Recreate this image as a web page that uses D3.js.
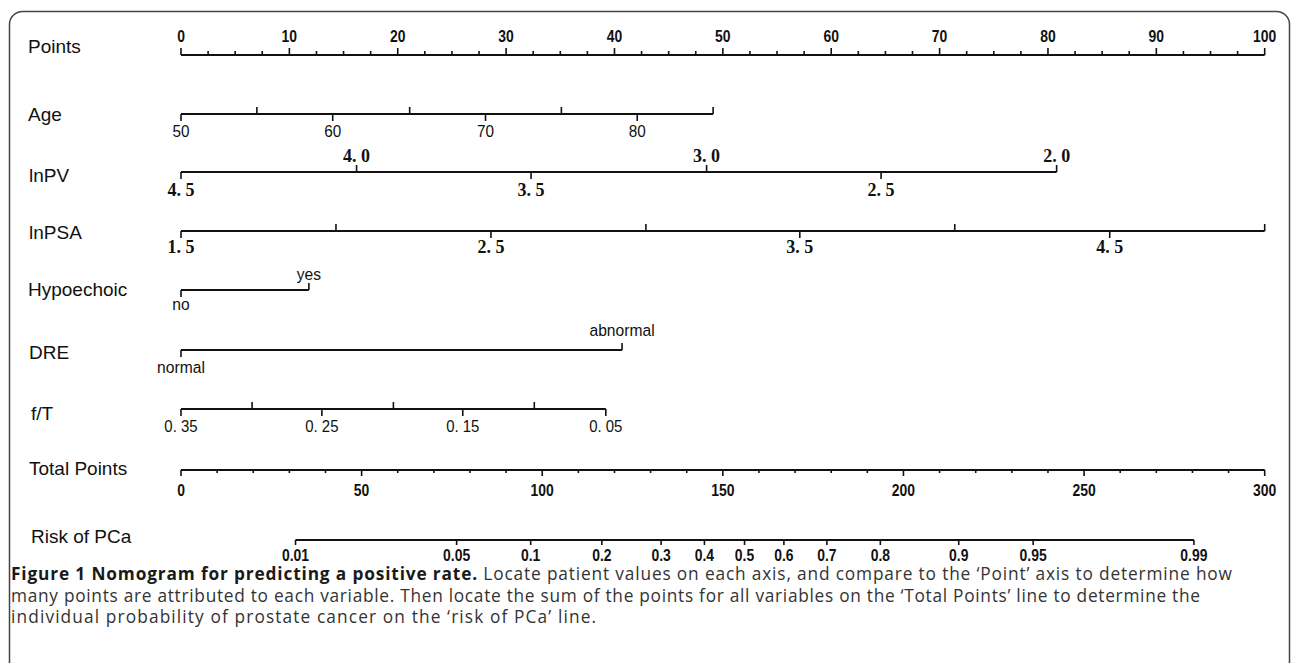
<!DOCTYPE html>
<html><head><meta charset="utf-8">
<script src="https://cdn.jsdelivr.net/npm/d3@7"></script>
<style>html,body{margin:0;padding:0;background:#fff}svg{display:block}</style>
</head><body>
<svg id="chart" width="1292" height="663"></svg>
<script>
// ---------- DATA ----------
const rowNames = ["Points","Age","lnPV","lnPSA","Hypoechoic","DRE","f/T","Total Points","Risk of PCa"];

const pointsMajor = [0,10,20,30,40,50,60,70,80,90,100];
const pointsMinor = [2.5,5,7.5,12.5,15,17.5,22.5,25,27.5,32.5,35,37.5,42.5,45,47.5,52.5,55,57.5,62.5,65,67.5,72.5,75,77.5,82.5,85,87.5,92.5,95,97.5];

const ageValues = [50,55,60,65,70,75,80,85];
const agePoints = [0,7.0,14.0,21.1,28.1,35.1,42.1,49.1];
const ageLabels = ["50","","60","","70","","80",""];

const lnpvValues = [4.5,4.0,3.5,3.0,2.5,2.0];
const lnpvPoints = [0,16.2,32.3,48.5,64.6,80.8];
const lnpvLabels = ["4. 5","4. 0","3. 5","3. 0","2. 5","2. 0"];
const lnpvSide   = ["below","above","below","above","below","above"];

const lnpsaValues = [1.5,2.0,2.5,3.0,3.5,4.0,4.5,5.0];
const lnpsaPoints = [0,14.3,28.6,42.9,57.1,71.4,85.7,100];
const lnpsaLabels = ["1. 5","","2. 5","","3. 5","","4. 5",""];

const hypoLevels = ["no","yes"];
const hypoPoints = [0,11.8];

const dreLevels = ["normal","abnormal"];
const drePoints = [0,40.7];

const ftValues = [0.35,0.30,0.25,0.20,0.15,0.10,0.05];
const ftPoints = [0,6.56,13.0,19.6,26.0,32.6,39.2];
const ftLabels = ["0. 35","","0. 25","","0. 15","","0. 05"];

const totalMajor = [0,50,100,150,200,250,300];
const totalMinor = [10,20,30,40,60,70,80,90,110,120,130,140,160,170,180,190,210,220,230,240,260,270,280,290];

const riskLabels = ["0.01","0.05","0.1","0.2","0.3","0.4","0.5","0.6","0.7","0.8","0.9","0.95","0.99"];
// total points at which each risk tick sits
const riskTotals = [31.7,76.3,96.8,116.5,132.9,144.9,156.0,166.9,178.8,193.6,215.3,235.9,280.4];

const captionBold = "Figure 1 Nomogram for predicting a positive rate.";
const captionLines = [
  " Locate patient values on each axis, and compare to the \u2018Point\u2019 axis to determine how",
  "many points are attributed to each variable. Then locate the sum of the points for all variables on the \u2018Total Points\u2019 line to determine the",
  "individual probability of prostate cancer on the \u2018risk of PCa\u2019 line."
];

// ---------- LAYOUT ----------
const svg = d3.select("#chart");
const X0 = 181, X1 = 1264.7;
const xPts = d3.scaleLinear().domain([0,100]).range([X0,X1]);
const xTot = d3.scaleLinear().domain([0,300]).range([X0,X1]);

const rowY = {Points:55, Age:114, lnPV:172, lnPSA:231, Hypoechoic:290, DRE:350, "f/T":409, "Total Points":470, "Risk of PCa":540};
const nameBase = {Points:53, Age:121, lnPV:182, lnPSA:239, Hypoechoic:296, DRE:359, "f/T":420, "Total Points":475, "Risk of PCa":543};
const nameX = {Points:28, Age:28, lnPV:29, lnPSA:29, Hypoechoic:28, DRE:29, "f/T":31, "Total Points":29, "Risk of PCa":31};

const INK = "#111";
const SANS = "'Liberation Sans', Arial, sans-serif";
const SERIF = "'Liberation Serif', 'Times New Roman', serif";

// frame
svg.append("rect").attr("x",9.5).attr("y",11.5).attr("width",1280).attr("height",700)
  .attr("rx",13).attr("fill","none").attr("stroke","#444").attr("stroke-width",1.5);

// row names
rowNames.forEach(n => {
  svg.append("text").attr("x",nameX[n]).attr("y",nameBase[n])
    .attr("font-family",SANS).attr("font-size",19).attr("fill",INK).text(n);
});

function label(x,y,txt,opt){
  const g = svg.append("g").attr("transform",`translate(${x},${y}) scale(${opt.sx||1},1)`);
  g.append("text").attr("text-anchor","middle").attr("font-family",opt.font)
    .attr("font-size",opt.size).attr("font-weight",opt.weight||"normal").attr("fill",INK).text(txt);
}
function hline(y,xa,xb){
  svg.append("line").attr("x1",xa).attr("x2",xb).attr("y1",y).attr("y2",y)
    .attr("stroke",INK).attr("stroke-width",2);
}
function tick(x,y,len,dir){ // dir -1 up, +1 down
  svg.append("line").attr("x1",x).attr("x2",x).attr("y1",y).attr("y2",y+dir*len)
    .attr("stroke",INK).attr("stroke-width",1.6);
}

// Points axis
{
  const y = rowY.Points;
  hline(y,xPts(0),xPts(100));
  pointsMajor.forEach(v => { tick(xPts(v),y,7,-1); label(xPts(v),42,String(v),{font:SANS,size:17,weight:"bold",sx:0.82}); });
  pointsMinor.forEach(v => tick(xPts(v),y,4,-1));
}

// generic variable axis
function varAxis(y, pts, labels, sides, opt){
  const xs = pts.map(p => xPts(p));
  hline(y, d3.min(xs), d3.max(xs));
  xs.forEach((x,i) => {
    const side = sides ? sides[i] : (labels[i] ? "below" : "above");
    tick(x,y,7, side==="below" ? 1 : -1);
    if (labels[i]) label(x, side==="below" ? y+opt.below : y+opt.above, labels[i], opt);
  });
}

varAxis(rowY.Age, agePoints, ageLabels, null, {font:SANS,size:17,below:23,sx:0.9});
varAxis(rowY.lnPV, lnpvPoints, lnpvLabels, lnpvSide, {font:SERIF,size:18,weight:"bold",below:24,above:-10});
varAxis(rowY.lnPSA, lnpsaPoints, lnpsaLabels, null, {font:SERIF,size:18,weight:"bold",below:22});
varAxis(rowY.Hypoechoic, hypoPoints, hypoLevels, ["below","above"], {font:SANS,size:17,below:20,above:-10,sx:0.92});
varAxis(rowY.DRE, drePoints, dreLevels, ["below","above"], {font:SANS,size:17,below:23,above:-14,sx:0.92});
varAxis(rowY["f/T"], ftPoints, ftLabels, null, {font:SANS,size:17,below:23,sx:0.88});

// Total points axis
{
  const y = rowY["Total Points"];
  hline(y,xTot(0),xTot(300));
  totalMajor.forEach(v => { tick(xTot(v),y,6,1); label(xTot(v),y+26,String(v),{font:SANS,size:17,weight:"bold",sx:0.82}); });
  totalMinor.forEach(v => tick(xTot(v),y,3,1));
}

// Risk axis (positioned on the Total Points scale)
{
  const y = rowY["Risk of PCa"];
  hline(y,xTot(d3.min(riskTotals)),xTot(d3.max(riskTotals)));
  riskTotals.forEach((t,i) => { tick(xTot(t),y,5,1); label(xTot(t),y+21,riskLabels[i],{font:SANS,size:17,weight:"bold",sx:0.82}); });
}

// caption
{
  const base = [580,602,623];
  const widths = [1221,1189,585];
  const FS = 17.3;
  const t1 = svg.append("text").attr("x",11).attr("y",base[0]).attr("font-family","'Open Sans', sans-serif")
    .attr("font-size",FS).attr("fill","#333").attr("textLength",widths[0]).attr("lengthAdjust","spacing");
  t1.append("tspan").attr("font-weight","bold").attr("fill","#1a1a1a").text(captionBold);
  t1.append("tspan").text(captionLines[0]);
  for (let i=1;i<3;i++){
    svg.append("text").attr("x",11).attr("y",base[i]).attr("font-family","'Open Sans', sans-serif")
      .attr("font-size",FS).attr("fill","#333").attr("textLength",widths[i]).attr("lengthAdjust","spacing")
      .text(captionLines[i]);
  }
}
</script>
</body></html>
